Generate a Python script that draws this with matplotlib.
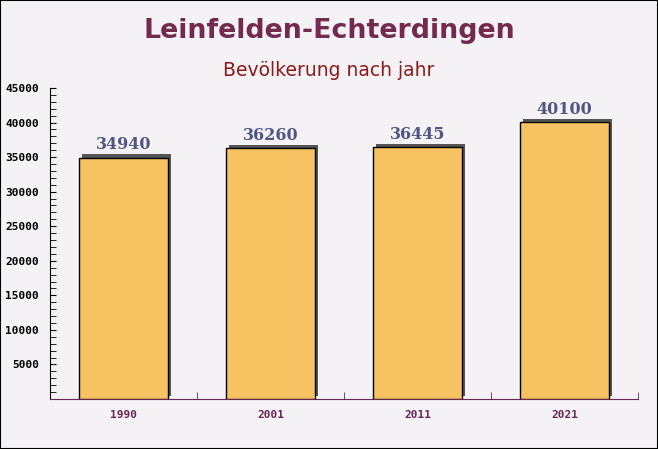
import matplotlib.pyplot as plt
import matplotlib.patheffects as pe
from matplotlib.ticker import MultipleLocator, FixedLocator
import numpy as np

# data
jahre = ["1990", "2001", "2011", "2021"]
einwohner = [34940, 36260, 36445, 40100]
y_ticks = [5000, 10000, 15000, 20000, 25000, 30000, 35000, 40000, 45000]

fig = plt.figure(figsize=(6.58, 4.49), dpi=100)
fig.patch.set_facecolor('#f4f2f4')

ax = fig.add_axes([50 / 658, 1 - 399 / 449, 588 / 658, 311 / 449])
ax.set_facecolor('none')

x = np.arange(len(jahre))
bars = ax.bar(x, einwohner, width=0.6, color='#f7c262', edgecolor='black', linewidth=1, zorder=3)
for b in bars:
    b.set_path_effects([pe.SimplePatchShadow(offset=(2.2, 2.2), shadow_rgbFace='#555555', alpha=1.0),
                        pe.Normal()])

for xi, v in zip(x, einwohner):
    ax.annotate(str(v), (xi, v), xytext=(0, 3), textcoords='offset points', ha='center', va='bottom',
                fontsize=11.5, fontweight='bold', family='DejaVu Serif', color='#4f5585', zorder=4)

ax.set_xlim(-0.5, len(jahre) - 0.5)
ax.set_ylim(0, 45000)
ax.yaxis.set_major_locator(FixedLocator(y_ticks))
ax.yaxis.set_minor_locator(MultipleLocator(1000))
ax.set_yticklabels([str(t) for t in y_ticks], family='DejaVu Sans Mono', fontweight='bold', fontsize=8)
ax.tick_params(axis='y', which='both', length=4, direction='in', color='black', pad=8)

ax.set_xticks(x)
ax.set_xticklabels(jahre, family='DejaVu Sans Mono', fontweight='bold', fontsize=8, color='#6b2553')
ax.xaxis.set_minor_locator(FixedLocator(np.arange(0.5, len(jahre), 1)))
ax.tick_params(axis='x', which='major', length=0, pad=8)
ax.tick_params(axis='x', which='minor', length=5, direction='in', color='#6b2553')

for s in ['top', 'right']:
    ax.spines[s].set_visible(False)
ax.spines['bottom'].set_color('#6b2553')
ax.spines['left'].set_color('black')

fig.text(0.5, 1 - 31 / 449, "Leinfelden-Echterdingen", ha='center', va='center',
         fontsize=19.3, fontweight='bold', color='#74294f')
fig.text(0.5, 1 - 70 / 449, "Bevölkerung nach jahr", ha='center', va='center',
         fontsize=13.5, color='#8b1a1a')

# thin frame around the image
fig.patches.append(plt.Rectangle((0, 0), 1, 1, transform=fig.transFigure, fill=False,
                                 edgecolor='black', linewidth=1.5))

fig.savefig('out.png', dpi=100, facecolor=fig.get_facecolor())
